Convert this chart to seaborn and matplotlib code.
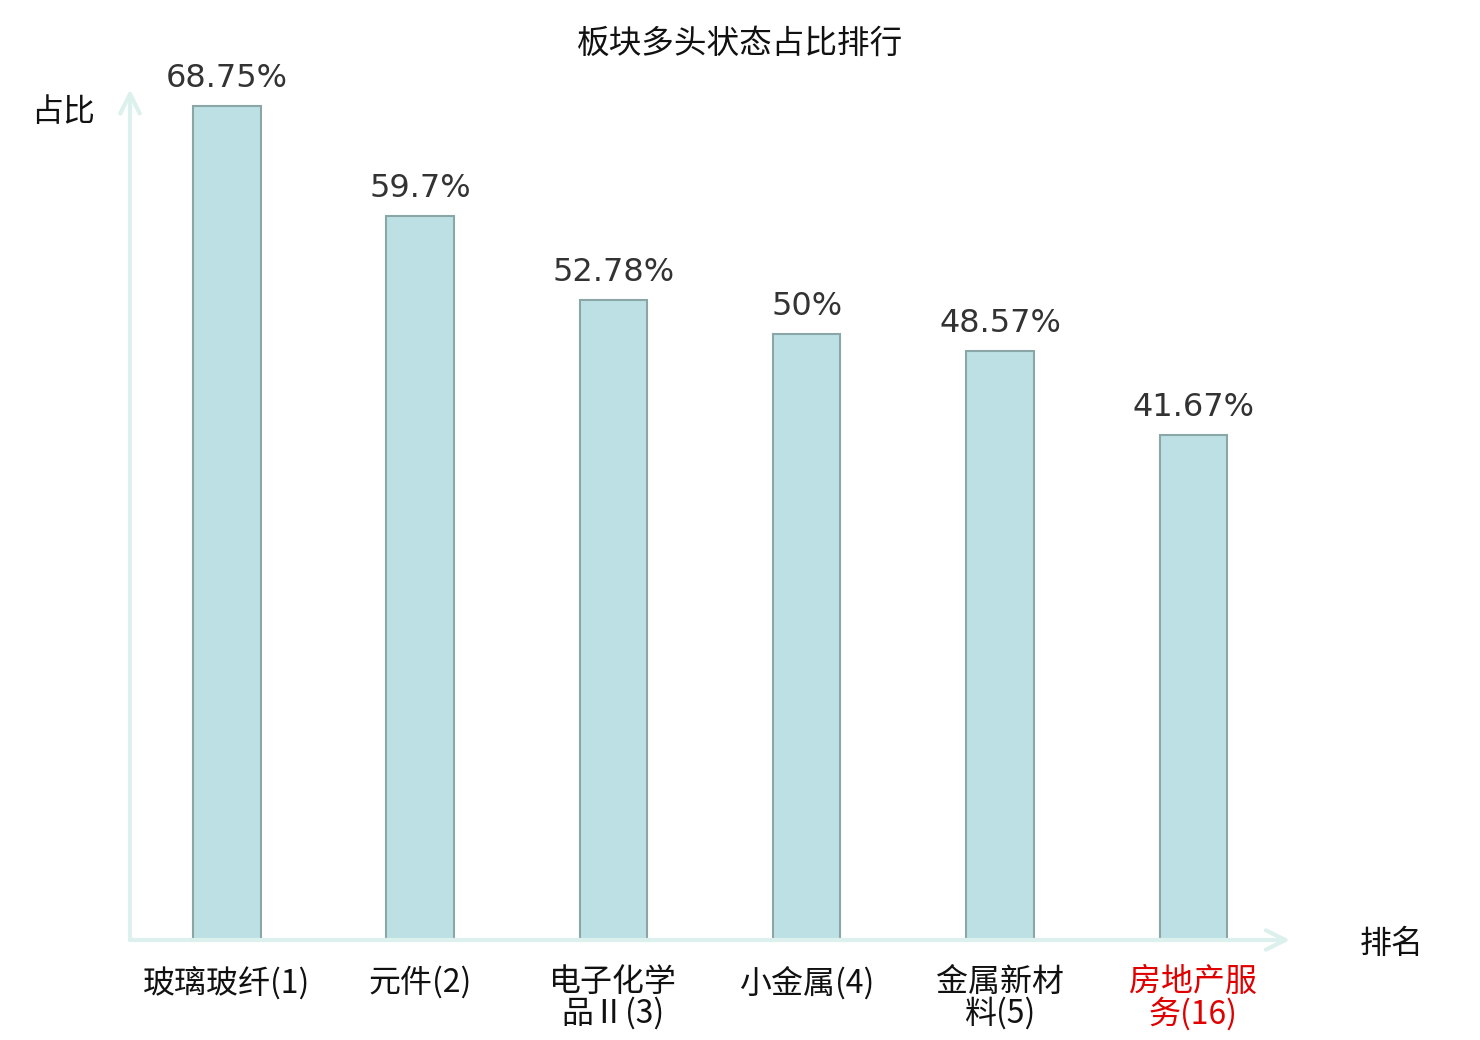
import matplotlib
matplotlib.use("Agg")
import matplotlib.pyplot as plt
import seaborn as sns
import pandas as pd

# ---- data ----
categories = ["玻璃玻纤", "元件", "电子化学品Ⅱ", "小金属", "金属新材料", "房地产服务"]
ranks = [1, 2, 3, 4, 5, 16]
values = [68.75, 59.7, 52.78, 50, 48.57, 41.67]
title = "板块多头状态占比排行"
y_label = "占比"
x_label = "排名"
highlight_index = 5

def wrap(name, rank, n=4):
    text = name if len(name) <= n else name[:n] + "\n" + name[n:]
    return f"{text}({rank})"

tick_labels = [wrap(c, r) for c, r in zip(categories, ranks)]

sns.set_theme(style="white")
cjk = ["Noto Sans CJK SC", "DejaVu Sans"]
plt.rcParams["font.family"] = cjk

df = pd.DataFrame({"cat": tick_labels, "val": values})

fig = plt.figure(figsize=(14.8, 10.4), dpi=100)
ax = fig.add_axes([130 / 1480, 100 / 1040, 1160 / 1480, 849 / 1040])

sns.barplot(data=df, x="cat", y="val", ax=ax, color="#bce0e3", saturation=1,
            width=0.35, edgecolor="#8aa6a7", linewidth=1.5)

ax.set_xlim(-0.5, 5.5)
ax.set_ylim(0, 70)

labels = [f"{v:g}%" for v in values]
ax.bar_label(ax.containers[0], labels=labels, padding=8.5, fontsize=23,
             color="#333333", family="DejaVu Sans")

for s in ax.spines.values():
    s.set_visible(False)
ax.set_yticks([])
ax.tick_params(axis="x", length=0, pad=19)
ax.set_xlabel("")
ax.set_ylabel("")
for i, t in enumerate(ax.get_xticklabels()):
    t.set_fontsize(23)
    t.set_multialignment("center")
    t.set_linespacing(0.95)
    t.set_color("#e00000" if i == highlight_index else "#111111")

arrow_color = "#dcf1ee"
ax.annotate("", xy=(0, 1.002), xytext=(0, 0), xycoords="axes fraction",
            arrowprops=dict(arrowstyle="->", color=arrow_color, lw=3,
                            mutation_scale=35, shrinkA=0, shrinkB=0),
            annotation_clip=False)
ax.annotate("", xy=(1.0, 0), xytext=(0, 0), xycoords="axes fraction",
            arrowprops=dict(arrowstyle="->", color=arrow_color, lw=3,
                            mutation_scale=35, shrinkA=0, shrinkB=0),
            annotation_clip=False)

fig.text(740 / 1480, 1 - 44 / 1040, title, ha="center", va="center",
         fontsize=23.5, color="#111111")
fig.text(63 / 1480, 1 - 112 / 1040, y_label, ha="center", va="center",
         fontsize=23, color="#111111")
fig.text(1392 / 1480, 1 - 944 / 1040, x_label, ha="center", va="center",
         fontsize=23, color="#111111")

fig.savefig("out.png", dpi=100)
